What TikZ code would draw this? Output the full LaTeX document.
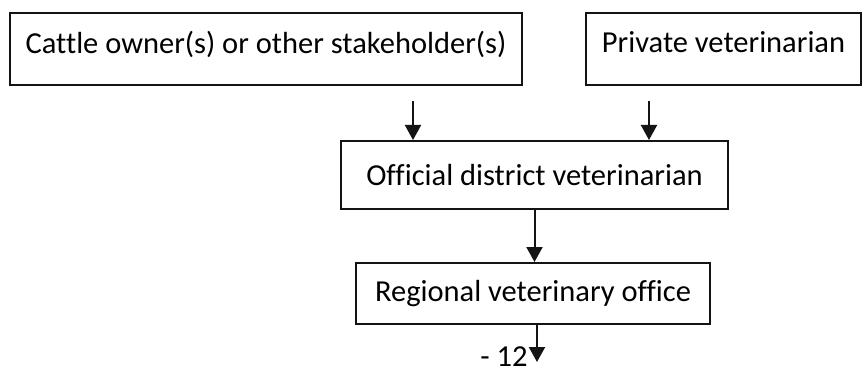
\documentclass[tikz,border=0pt]{standalone}
\usepackage{fontspec}
\setmainfont{Carlito}[Ligatures=NoCommon]
\usepackage{tikz}
\usetikzlibrary{arrows.meta, positioning, calc}
\definecolor{FlowLine}{RGB}{20, 20, 20}
\definecolor{FlowText}{RGB}{0, 0, 0}
\tikzset{
  vetbox/.style={draw=FlowLine, line width=2pt, rectangle, inner sep=0pt,
    text=FlowText, font=\fontsize{30.5}{36}\selectfont},
  flowarrow/.style={draw=FlowLine, line width=2pt,
    -{Triangle[length=15pt, width=16pt]}}
}

\begin{document}
\begin{tikzpicture}[x=1pt, y=-1pt]
    \path[use as bounding box] (0,0) rectangle (862,374);
    % reporting chain
    \node[vetbox, minimum width=512pt, minimum height=72pt, text depth=13pt] (owner) at (266,49) {Cattle owner(s) or other stakeholder(s)};
    \node[vetbox, minimum width=275pt, minimum height=72pt, text depth=13pt] (privvet) at (723.5,49) {Private veterinarian};
    \node[vetbox, minimum width=387pt, minimum height=68pt] (district) at (534.5,175) {Official district veterinarian};
    \node[vetbox, minimum width=354pt, minimum height=61pt] (regional) at (533,293.5) {Regional veterinary office};
    \node[font=\fontsize{30.5}{36}\selectfont, inner sep=0pt, anchor=base] (pagenum) at (504,366) {- 12};
    \coordinate (ownerfoot) at (413,101);
    \coordinate (privfoot) at (649,101);
    \coordinate (regionfoot) at (537,362);
    \draw[flowarrow] (ownerfoot) -- (ownerfoot |- district.north);
    \draw[flowarrow] (privfoot) -- (privfoot |- district.north);
    \draw[flowarrow] (district.south) -- (district.south |- regional.north);
    \draw[flowarrow] (regional.south -| regionfoot) -- (regionfoot);
\end{tikzpicture}
\end{document}
